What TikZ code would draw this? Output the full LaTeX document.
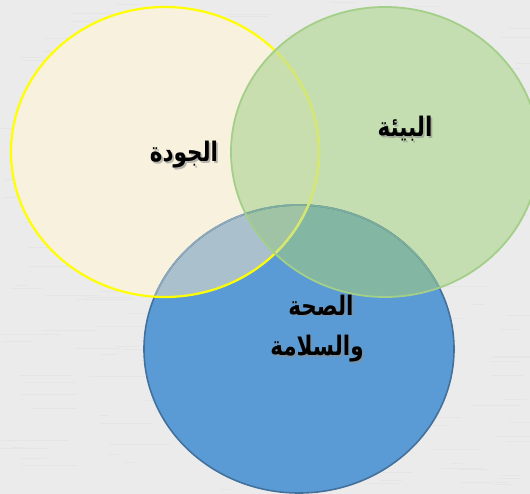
\documentclass[tikz,border=0pt]{standalone}
\usepackage{fontspec}
\newfontfamily\arabicfont[Script=Arabic]{DejaVu Sans}
\TeXXeTstate=1
\definecolor{bgc}{HTML}{EBEBEB}
\definecolor{creamc}{HTML}{F8F1DE}
\definecolor{greenc}{HTML}{C4DEB2}
\definecolor{bluec}{HTML}{5B9BD5}
\definecolor{ygc}{HTML}{C9DEAF}
\definecolor{ybc}{HTML}{AAC1CD}
\definecolor{gbc}{HTML}{84B7A3}
\definecolor{ygbc}{HTML}{9FC3A4}
\definecolor{yline}{HTML}{FFFF00}
\definecolor{ylinefade}{HTML}{D2E57C}
\definecolor{gline}{HTML}{A3CF88}
\definecolor{bline}{HTML}{41719C}
\definecolor{blineY}{HTML}{8FA8BA}
\definecolor{blineG}{HTML}{7DAE98}
\tikzset{
  lbl/.style={font=\arabicfont\bfseries\fontsize{21.5}{25}\selectfont, text=black, inner sep=0pt, yscale=1.25, transform shape},
  shd/.style={font=\arabicfont\bfseries\fontsize{21.5}{25}\selectfont, text=black!45, opacity=0.6, inner sep=0pt, yscale=1.25, transform shape},
}
\begin{document}
\begin{tikzpicture}[x=1pt,y=-1pt]
\useasboundingbox (0,0) rectangle (530,494);
\fill[bgc] (0,0) rectangle (530,494);
\pgfmathsetseed{7}
\foreach \i in {1,...,260}{
  \pgfmathsetmacro{\xa}{random(0,520)}
  \pgfmathsetmacro{\ya}{random(0,494)}
  \pgfmathsetmacro{\ln}{random(10,60)}
  \draw[white!80!gray, line width=0.6pt] (\xa,\ya) -- ++(\ln,0);
}
\def\ypath{(165,152) ellipse [x radius=154pt, y radius=145pt]}
\def\gpath{(385,152) ellipse [x radius=154pt, y radius=145pt]}
\def\bpath{(299,349) ellipse [x radius=155pt, y radius=144pt]}
% fills
\fill[creamc] \ypath;
\fill[greenc] \gpath;
\fill[bluec] \bpath;
\begin{scope}\clip \ypath; \fill[ygc] \gpath; \end{scope}
\begin{scope}\clip \ypath; \fill[ybc] \bpath; \end{scope}
\begin{scope}\clip \gpath; \fill[gbc] \bpath; \end{scope}
\begin{scope}\clip \ypath; \clip \gpath; \fill[ygbc] \bpath; \end{scope}
% outlines
\draw[bline, line width=1.6pt] \bpath;
\begin{scope}\clip \ypath; \draw[blineY, line width=1.6pt] \bpath; \end{scope}
\begin{scope}\clip \gpath; \draw[blineG, line width=1.6pt] \bpath; \end{scope}
\draw[yline, line width=2.2pt] \ypath;
\begin{scope}\clip \gpath; \draw[ylinefade, line width=2.2pt] \ypath; \end{scope}
\draw[gline, line width=1.8pt] \gpath;
% labels
\node[shd] (s1) at (185.8,156.2) {\beginR الجودة\endR};
\node[lbl] (t1) at (184,155) {\beginR الجودة\endR};
\node[shd] (s2) at (406.8,130.2) {\beginR البيئة\endR};
\node[lbl] (t2) at (405,129) {\beginR البيئة\endR};
\node[shd] (s3) at (322.8,306.2) {\beginR الصحة\endR};
\node[lbl] (t3) at (321,305) {\beginR الصحة\endR};
\node[shd] (s4) at (318.8,350.2) {\beginR والسلامة\endR};
\node[lbl] (t4) at (317,349) {\beginR والسلامة\endR};
\end{tikzpicture}
\end{document}
